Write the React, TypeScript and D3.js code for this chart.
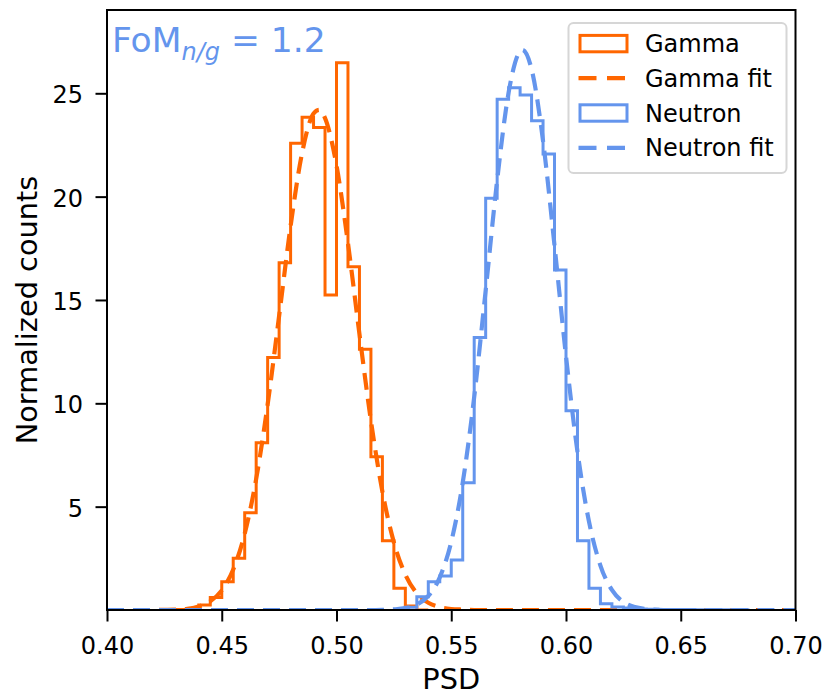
import React, { useEffect, useRef } from "react";
import * as d3 from "d3";

// histogram bins (density), width 0.005
const binWidth = 0.005;

const gammaStart = 0.425;
const gammaCounts = [
  0.0, 0.02, 0.05, 0.24, 0.61, 1.37, 2.5, 4.71, 8.09, 12.22, 16.8, 22.58,
  23.84, 23.35, 15.24, 26.48, 16.61, 12.61, 7.42, 3.35, 1.05, 0.19, 0.0,
];

const neutronStart = 0.525;
const neutronCounts = [
  0.0, 0.13, 0.64, 1.37, 1.64, 2.42, 6.16, 13.19, 19.92, 24.71, 25.27, 24.92,
  23.67, 22.06, 16.45, 9.64, 3.35, 1.05, 0.3, 0.15, 0.1, 0.05, 0.04, 0.03,
  0.02, 0.02, 0.01, 0.01, 0.01, 0.01, 0.0,
];

// fit curves
const gammaFitX = [
  0.4, 0.42, 0.43, 0.435, 0.44, 0.445, 0.45, 0.455, 0.46, 0.465, 0.47, 0.475,
  0.48, 0.485, 0.49, 0.4925, 0.495, 0.5, 0.505, 0.51, 0.515, 0.52, 0.525,
  0.53, 0.535, 0.54, 0.545, 0.55, 0.555, 0.56, 0.58, 0.7,
];
const gammaFitY = [
  0, 0, 0.02, 0.06, 0.17, 0.42, 0.95, 1.96, 3.69, 6.34, 9.95, 14.23, 18.58,
  22.11, 24.02, 24.2, 23.8, 21.51, 17.74, 13.35, 9.16, 5.73, 3.27, 1.71, 0.81,
  0.35, 0.14, 0.05, 0.02, 0, 0, 0,
];

const neutronFitX = [
  0.4, 0.5, 0.515, 0.52, 0.525, 0.53, 0.535, 0.54, 0.545, 0.55, 0.555, 0.56,
  0.565, 0.57, 0.575, 0.58, 0.581, 0.585, 0.59, 0.595, 0.6, 0.605, 0.61, 0.615,
  0.62, 0.625, 0.63, 0.635, 0.64, 0.645, 0.7,
];
const neutronFitY = [
  0, 0, 0, 0.01, 0.03, 0.09, 0.26, 0.68, 1.58, 3.3, 6.16, 10.3, 15.46, 20.79,
  25.04, 27.04, 27.1, 26.17, 22.69, 17.63, 12.28, 7.66, 4.29, 2.15, 0.97, 0.39,
  0.14, 0.05, 0.01, 0, 0,
];

const xTicks = [0.4, 0.45, 0.5, 0.55, 0.6, 0.65, 0.7];
const yTicks = [5, 10, 15, 20, 25];
const legendLabels = ["Gamma", "Gamma fit", "Neutron", "Neutron fit"];
const fomValue = "1.2";

const orange = "#ff6600";
const blue = "#6495ed";
const font = "DejaVu Sans, sans-serif";

const App = () => {
  const ref = useRef<SVGSVGElement>(null);

  useEffect(() => {
    const svg = d3.select(ref.current);
    svg.selectAll("*").remove();

    const left = 107,
      right = 795.5,
      top = 10,
      bottom = 610;
    const fs = 24; // ticks, legend
    const labelFs = 28.8; // axis labels

    const x = d3.scaleLinear().domain([0.4, 0.7]).range([left, right]);
    const y = d3.scaleLinear().domain([0, 29.03]).range([bottom, top]);

    svg
      .append("defs")
      .append("clipPath")
      .attr("id", "plot-clip")
      .append("rect")
      .attr("x", left)
      .attr("y", top)
      .attr("width", right - left)
      .attr("height", bottom - top);

    const stepPoints = (start: number, counts: number[]) => {
      const pts: [number, number][] = [[start, 0]];
      counts.forEach((c, i) => {
        pts.push([start + i * binWidth, c]);
        pts.push([start + (i + 1) * binWidth, c]);
      });
      pts.push([start + counts.length * binWidth, 0]);
      return pts;
    };

    const line = d3
      .line<[number, number]>()
      .x((d) => x(d[0]))
      .y((d) => y(d[1]));
    const smooth = d3
      .line<[number, number]>()
      .x((d) => x(d[0]))
      .y((d) => y(d[1]))
      .curve(d3.curveMonotoneX);

    const plot = svg.append("g").attr("clip-path", "url(#plot-clip)");

    const drawHist = (start: number, counts: number[], color: string) =>
      plot
        .append("path")
        .attr("d", line(stepPoints(start, counts)))
        .attr("fill", "none")
        .attr("stroke", color)
        .attr("stroke-width", 3)
        .attr("stroke-linejoin", "miter");

    const drawFit = (xs: number[], ys: number[], color: string) =>
      plot
        .append("path")
        .attr("d", smooth(xs.map((v, i) => [v, ys[i]] as [number, number])))
        .attr("fill", "none")
        .attr("stroke", color)
        .attr("stroke-width", 4.2)
        .attr("stroke-dasharray", "17,9");

    drawHist(gammaStart, gammaCounts, orange);
    drawFit(gammaFitX, gammaFitY, orange);
    drawHist(neutronStart, neutronCounts, blue);
    drawFit(neutronFitX, neutronFitY, blue);

    // axes
    const xAxis = svg
      .append("g")
      .attr("transform", `translate(0,${bottom})`)
      .call(
        d3
          .axisBottom(x)
          .tickValues(xTicks)
          .tickFormat(d3.format(".2f"))
          .tickSize(11.5)
          .tickPadding(15)
      );
    const yAxis = svg
      .append("g")
      .attr("transform", `translate(${left},0)`)
      .call(
        d3
          .axisLeft(y)
          .tickValues(yTicks)
          .tickFormat(d3.format("d"))
          .tickSize(11.5)
          .tickPadding(12.5)
      );
    [xAxis, yAxis].forEach((g) => {
      g.select(".domain").remove();
      g.selectAll(".tick line").attr("stroke", "#000").attr("stroke-width", 2);
      g.selectAll(".tick text")
        .attr("fill", "#000")
        .style("font-family", font)
        .style("font-size", fs + "px");
    });
    yAxis.selectAll(".tick text").attr("dy", "0.4em");

    svg
      .append("rect")
      .attr("x", left)
      .attr("y", top)
      .attr("width", right - left)
      .attr("height", bottom - top)
      .attr("fill", "none")
      .attr("stroke", "#000")
      .attr("stroke-width", 2);

    svg
      .append("text")
      .attr("x", (left + right) / 2)
      .attr("y", 689)
      .attr("text-anchor", "middle")
      .style("font-family", font)
      .style("font-size", labelFs + "px")
      .text("PSD");

    svg
      .append("text")
      .attr("transform", `translate(37,${(top + bottom) / 2}) rotate(-90)`)
      .attr("text-anchor", "middle")
      .style("font-family", font)
      .style("font-size", labelFs + "px")
      .text("Normalized counts");

    // legend
    const lg = svg.append("g");
    lg.append("rect")
      .attr("x", 568.5)
      .attr("y", 23)
      .attr("width", 218)
      .attr("height", 150)
      .attr("rx", 5)
      .attr("fill", "#fff")
      .attr("fill-opacity", 0.8)
      .attr("stroke", "#d6d6d6")
      .attr("stroke-width", 2);

    const rowY = [43.6, 78.2, 113, 147.8];
    const colors = [orange, orange, blue, blue];
    legendLabels.forEach((label, i) => {
      const cy = rowY[i];
      if (i % 2 === 0) {
        lg.append("rect")
          .attr("x", 580)
          .attr("y", cy - 8.2)
          .attr("width", 47)
          .attr("height", 16.4)
          .attr("fill", "#fff")
          .attr("stroke", colors[i])
          .attr("stroke-width", 3);
      } else {
        lg.append("line")
          .attr("x1", 578.5)
          .attr("x2", 625.5)
          .attr("y1", cy)
          .attr("y2", cy)
          .attr("stroke", colors[i])
          .attr("stroke-width", 4.2)
          .attr("stroke-dasharray", "18,10.5");
      }
      lg.append("text")
        .attr("x", 645)
        .attr("y", cy + 8.6)
        .style("font-family", font)
        .style("font-size", fs + "px")
        .text(label);
    });

    // FoM annotation
    const fom = svg
      .append("text")
      .attr("x", 112)
      .attr("y", 52)
      .attr("fill", blue)
      .style("font-family", font)
      .style("font-size", "34.5px");
    fom.append("tspan").text("FoM");
    fom
      .append("tspan")
      .attr("dy", 7.5)
      .style("font-size", "24px")
      .style("font-style", "italic")
      .text("n/g");
    fom.append("tspan").attr("dy", -7.5).text(" = " + fomValue);
  }, []);

  return (
    <svg
      ref={ref}
      width={826}
      height={697}
      style={{ position: "absolute", left: 0, top: 0, background: "#fff" }}
    ></svg>
  );
};

export default App;
